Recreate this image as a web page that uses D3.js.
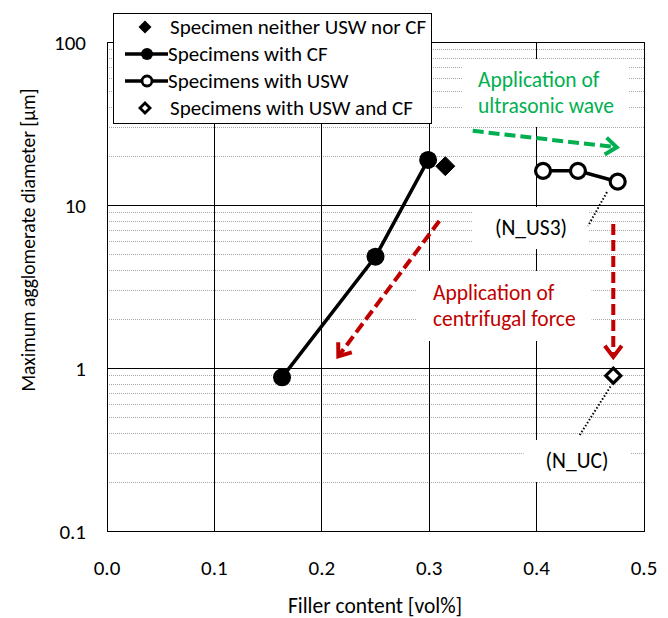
<!DOCTYPE html>
<html>
<head>
<meta charset="utf-8">
<script src="https://cdn.jsdelivr.net/npm/d3@7"></script>
<style>
  body { margin: 0; background: #fff; }
  svg { display: block; font-family: Carlito, Lato, sans-serif; }
</style>
</head>
<body>
<svg id="chart" width="668" height="618"></svg>
<script>
// data
const xTicks = [0.0, 0.1, 0.2, 0.3, 0.4, 0.5];
const yTicks = [0.1, 1, 10, 100];

const neitherX = [0.315];
const neitherY = [17.3];
const cfX = [0.163, 0.250, 0.299];
const cfY = [0.876, 4.82, 18.9];
const uswX = [0.406, 0.4385, 0.4755];
const uswY = [16.2, 16.2, 13.9];
const uswCfX = [0.4714];
const uswCfY = [0.897];

const legendLabels = ["Specimen neither USW nor CF", "Specimens with CF", "Specimens with USW", "Specimens with USW and CF"];

// annotations (data units)
const greenArrow = [[0.3405, 28.5], [0.4746, 22.6]];
const redArrow = [[0.3094, 7.98], [0.2154, 1.18]];
const redDownArrow = [[0.4714, 7.65], [0.4714, 1.17]];
const leaderUS3 = [[0.4655, 12.0], [0.4479, 7.44]];
const leaderUC = [[0.4688, 0.77], [0.4393, 0.38]];

const green = "#00b050", red = "#c00000";

const svg = d3.select("#chart");
const plot = {left: 107, right: 644, top: 42, bottom: 531};

const x = d3.scaleLinear().domain([0, 0.5]).range([plot.left, plot.right]);
const y = d3.scaleLog().domain([0.1, 100]).range([plot.bottom, plot.top]);

// minor grid (dotted)
let minor = [];
[0.1, 1, 10].forEach(d => { for (let k = 2; k <= 9; k++) minor.push(k * d); });
svg.append("g").selectAll("line").data(minor).join("line")
    .attr("x1", plot.left).attr("x2", plot.right)
    .attr("y1", d => Math.round(y(d)) + 0.5).attr("y2", d => Math.round(y(d)) + 0.5)
    .attr("stroke", "#a6a6a6").attr("stroke-width", 1).attr("stroke-dasharray", "1,1");

// major grid
const grid = svg.append("g").attr("stroke", "#000").attr("stroke-width", 1).attr("shape-rendering", "crispEdges");
grid.selectAll(".vg").data(xTicks.slice(1, -1)).join("line")
    .attr("x1", d => x(d)).attr("x2", d => x(d)).attr("y1", plot.top).attr("y2", plot.bottom);
grid.selectAll(".hg").data(yTicks.slice(1, -1)).join("line")
    .attr("x1", plot.left).attr("x2", plot.right).attr("y1", d => y(d)).attr("y2", d => y(d));

// frame
svg.append("rect").attr("x", plot.left).attr("y", plot.top)
    .attr("width", plot.right - plot.left).attr("height", plot.bottom - plot.top)
    .attr("fill", "none").attr("stroke", "#000").attr("shape-rendering", "crispEdges");

// tick labels
svg.append("g").selectAll("text").data(xTicks).join("text")
    .attr("x", d => x(d)).attr("y", 575)
    .attr("text-anchor", "middle").attr("font-size", 21)
    .text(d => d.toFixed(1));
svg.append("g").selectAll("text").data(yTicks).join("text")
    .attr("x", 86).attr("y", d => y(d) + 7.5)
    .attr("text-anchor", "end").attr("font-size", 21)
    .text(d => d3.format("~g")(d));

// axis titles
svg.append("text").attr("x", 375).attr("y", 613)
    .attr("text-anchor", "middle").attr("font-size", 21.5)
    .text("Filler content [vol%]");
svg.append("text").attr("transform", "translate(35,240) rotate(-90)")
    .attr("text-anchor", "middle").attr("font-size", 19.5)
    .text("Maximum agglomerate diameter [µm]");

// text boxes with white background
function textBox(lines, cx, top, color, anchor, padX, padY) {
    const g = svg.append("g");
    const rect = g.append("rect").attr("fill", "#fff");
    const t = g.append("text").attr("font-size", 21.5).attr("fill", color).attr("text-anchor", anchor);
    lines.forEach((s, i) => {
        t.append("tspan").attr("x", cx).attr("y", top + i * 26).text(s);
    });
    const b = t.node().getBBox();
    rect.attr("x", b.x - padX).attr("y", b.y - padY)
        .attr("width", b.width + 2 * padX).attr("height", b.height + 2 * padY);
}
textBox(["Application of", "ultrasonic wave"], 478, 87, green, "start", 15, 8);
textBox(["(N_US3)"], 531, 235, "#000", "middle", 22, 8);
textBox(["Application of", "centrifugal force"], 433, 300, red, "start", 16, 9);
textBox(["(N_UC)"], 577, 468, "#000", "middle", 22, 8);

// leader lines
[leaderUS3, leaderUC].forEach(p => {
    svg.append("line")
        .attr("x1", x(p[0][0])).attr("y1", y(p[0][1]))
        .attr("x2", x(p[1][0])).attr("y2", y(p[1][1]))
        .attr("stroke", "#000").attr("stroke-width", 2).attr("stroke-dasharray", "1.5,2");
});

// dashed arrows
function arrow(p, color) {
    const x1 = x(p[0][0]), y1 = y(p[0][1]), x2 = x(p[1][0]), y2 = y(p[1][1]);
    const a = Math.atan2(y2 - y1, x2 - x1);
    svg.append("line").attr("x1", x1).attr("y1", y1)
        .attr("x2", x2 - 3 * Math.cos(a)).attr("y2", y2 - 3 * Math.sin(a))
        .attr("stroke", color).attr("stroke-width", 4).attr("stroke-dasharray", "11,5");
    const L = 14, s = 0.65;
    const pts = [[x2 - L * Math.cos(a - s), y2 - L * Math.sin(a - s)], [x2, y2],
                 [x2 - L * Math.cos(a + s), y2 - L * Math.sin(a + s)]];
    svg.append("path").attr("d", d3.line()(pts))
        .attr("fill", "none").attr("stroke", color).attr("stroke-width", 4)
        .attr("stroke-linejoin", "miter").attr("stroke-linecap", "butt");
}
arrow(greenArrow, green);
arrow(redArrow, red);
arrow(redDownArrow, red);

// series
const line = d3.line().x(d => x(d[0])).y(d => y(d[1]));
const cf = cfX.map((v, i) => [v, cfY[i]]);
const usw = uswX.map((v, i) => [v, uswY[i]]);

svg.append("path").attr("d", line(cf)).attr("fill", "none").attr("stroke", "#000").attr("stroke-width", 3.5);
svg.append("g").selectAll("circle").data(cf).join("circle")
    .attr("cx", d => x(d[0])).attr("cy", d => y(d[1])).attr("r", 9).attr("fill", "#000");

svg.append("path").attr("d", line(usw)).attr("fill", "none").attr("stroke", "#000").attr("stroke-width", 3.5);
svg.append("g").selectAll("circle").data(usw).join("circle")
    .attr("cx", d => x(d[0])).attr("cy", d => y(d[1])).attr("r", 7.5)
    .attr("fill", "#fff").attr("stroke", "#000").attr("stroke-width", 3.2);

function diamond(cx, cy, h) {
    return `M${cx},${cy - h}L${cx + h},${cy}L${cx},${cy + h}L${cx - h},${cy}Z`;
}
svg.append("g").selectAll("path").data(neitherX.map((v, i) => [v, neitherY[i]])).join("path")
    .attr("d", d => diamond(x(d[0]), y(d[1]), 9.5)).attr("fill", "#000")
    .attr("stroke", "#000").attr("stroke-linejoin", "round");
svg.append("g").selectAll("path").data(uswCfX.map((v, i) => [v, uswCfY[i]])).join("path")
    .attr("d", d => diamond(x(d[0]), y(d[1]), 7.5)).attr("fill", "#fff")
    .attr("stroke", "#000").attr("stroke-width", 3.2);

// legend
const lg = svg.append("g");
lg.append("rect").attr("x", 113).attr("y", 13).attr("width", 318).attr("height", 110)
    .attr("fill", "#fff").attr("stroke", "#000").attr("shape-rendering", "crispEdges");
const rowY = i => 27 + i * 27;
const mx = 147;
legendLabels.forEach((lab, i) => {
    const ry = rowY(i);
    if (i === 1 || i === 2) {
        lg.append("line").attr("x1", 125).attr("x2", 168).attr("y1", ry).attr("y2", ry)
            .attr("stroke", "#000").attr("stroke-width", 3.5);
    }
    if (i === 0) lg.append("path").attr("d", diamond(mx - 2, ry, 6.5)).attr("fill", "#000");
    if (i === 1) lg.append("circle").attr("cx", mx).attr("cy", ry).attr("r", 6).attr("fill", "#000");
    if (i === 2) lg.append("circle").attr("cx", mx).attr("cy", ry).attr("r", 5)
        .attr("fill", "#fff").attr("stroke", "#000").attr("stroke-width", 2.8);
    if (i === 3) lg.append("path").attr("d", diamond(mx - 2, ry, 5)).attr("fill", "#fff")
        .attr("stroke", "#000").attr("stroke-width", 2.8);
    lg.append("text").attr("x", i === 1 || i === 2 ? 168 : 170).attr("y", ry + 7)
        .attr("font-size", 21).text(lab);
});
</script>
</body>
</html>
